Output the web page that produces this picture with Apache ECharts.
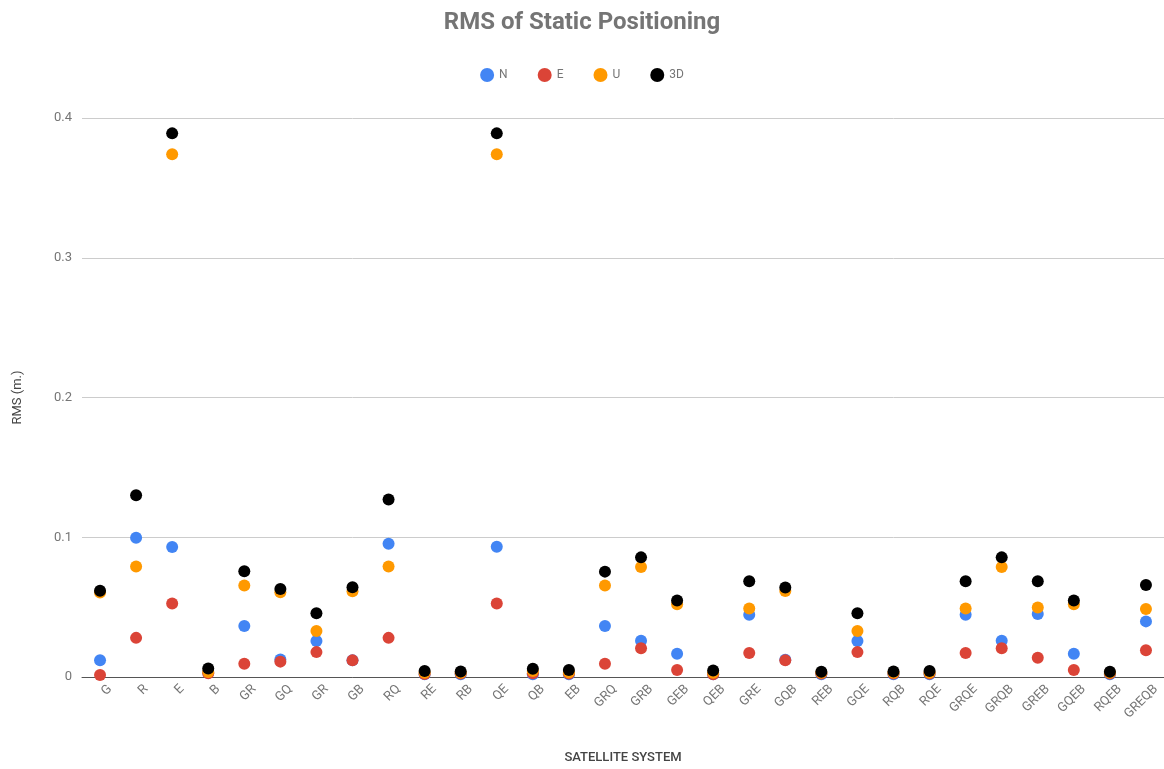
<!DOCTYPE html>
<html>
<head>
<meta charset="utf-8">
<script src="https://cdn.jsdelivr.net/npm/echarts@6/dist/echarts.min.js"></script>
<style>html,body{margin:0;padding:0;background:#fff}#c{width:1164px;height:769px}</style>
</head>
<body>
<div id="c"></div>
<script>
const categories = ['G','R','E','B','GR','GQ','GR','GB','RQ','RE','RB','QE','QB','EB','GRQ','GRB','GEB','QEB','GRE','GQB','REB','GQE','RQB','RQE','GRQE','GRQB','GREB','GQEB','RQEB','GREQB'];
const valuesN  = [0.012,0.0996,0.093,0.003,0.0365,0.0126,0.0258,0.012,0.0953,0.002,0.002,0.0932,0.002,0.002,0.0365,0.026,0.0166,0.002,0.0446,0.0123,0.002,0.0258,0.002,0.002,0.0446,0.026,0.045,0.0166,0.002,0.0398];
const valuesE  = [0.0014,0.028,0.0526,0.0026,0.0095,0.011,0.0178,0.0119,0.028,0.0022,0.0025,0.0526,0.0026,0.0025,0.0095,0.0206,0.005,0.002,0.0171,0.0119,0.0025,0.0178,0.0025,0.0025,0.0171,0.0206,0.0138,0.005,0.0025,0.0192];
const valuesU  = [0.0605,0.079,0.374,0.0036,0.0654,0.0607,0.033,0.0614,0.079,0.003,0.003,0.374,0.0043,0.0033,0.0654,0.0787,0.052,0.003,0.049,0.0616,0.0031,0.033,0.003,0.003,0.049,0.0787,0.0498,0.052,0.003,0.0486];
const values3D = [0.0617,0.130,0.389,0.006,0.0756,0.063,0.0457,0.0642,0.127,0.0043,0.004,0.389,0.0059,0.005,0.0754,0.0856,0.0548,0.0047,0.0685,0.064,0.0038,0.0457,0.004,0.0043,0.0685,0.0856,0.0685,0.0548,0.0038,0.0659];
const yTicks = [0, 0.1, 0.2, 0.3, 0.4];

const seriesDefs = [
  {name:'N', color:'#4285f4', data:valuesN},
  {name:'E', color:'#db4437', data:valuesE},
  {name:'U', color:'#ff9900', data:valuesU},
  {name:'3D', color:'#000000', data:values3D}
];

const chart = echarts.init(document.getElementById('c'));
chart.setOption({
  animation:false,
  title:{
    text:'RMS of Static Positioning', left:'center', top:6,
    textStyle:{fontFamily:'Roboto', fontWeight:'bold', fontSize:24, color:'#757575'}
  },
  legend:{
    top:63, left:'center', icon:'circle', itemWidth:14, itemHeight:14, itemGap:30,
    textStyle:{fontFamily:'Roboto', fontSize:12, color:'#757575'},
    data: seriesDefs.map(s=>s.name)
  },
  grid:{left:82, right:-4, top:118, bottom:88, containLabel:false},
  xAxis:{
    type:'category', data:categories,
    name:'SATELLITE SYSTEM', nameLocation:'middle', nameGap:74,
    nameTextStyle:{fontFamily:'Roboto', fontSize:13, fontWeight:500, color:'#444'},
    axisLine:{show:true, lineStyle:{color:'#555', width:1}},
    axisTick:{show:false},
    axisLabel:{rotate:45, interval:0, margin:20, padding:[0,-14,0,0], fontFamily:'Roboto', fontSize:13, color:'#757575'},
    splitLine:{show:false}
  },
  yAxis:{
    type:'value', min:yTicks[0], max:yTicks[yTicks.length-1], interval:0.1,
    name:'RMS (m.)', nameLocation:'middle', nameGap:58,
    nameTextStyle:{fontFamily:'Roboto', fontSize:13, color:'#444'},
    axisLine:{show:false}, axisTick:{show:false},
    axisLabel:{fontFamily:'Roboto', fontSize:13, color:'#757575', margin:10},
    splitLine:{lineStyle:{color:'#cccccc', width:1}}
  },
  series: seriesDefs.map(s=>({
    name:s.name, type:'scatter', symbol:'circle', symbolSize:12,
    itemStyle:{color:s.color, opacity:1},
    data:s.data.map((v,i)=>[i,v])
  }))
});
</script>
</body>
</html>
